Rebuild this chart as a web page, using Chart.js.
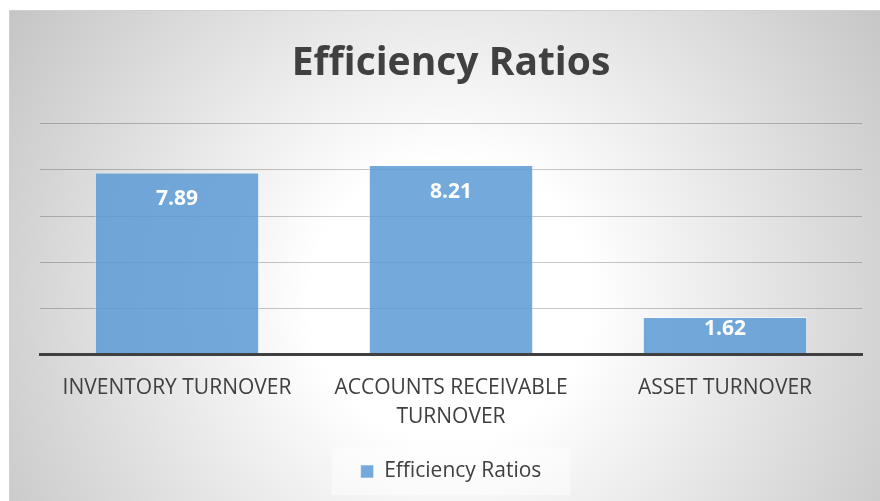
<!DOCTYPE html>
<html>
<head>
<meta charset="utf-8">
<script src="https://cdn.jsdelivr.net/npm/chart.js@4/dist/chart.umd.min.js"></script>
<style>
  html, body { margin: 0; padding: 0; background: #fff; }
  #wrap { width: 880px; height: 501px; }
</style>
</head>
<body>
<div id="wrap"><canvas id="ratios-chart"></canvas></div>
<script>
const categories = ['INVENTORY TURNOVER', ['ACCOUNTS RECEIVABLE', 'TURNOVER'], 'ASSET TURNOVER'];
const ratioValues = [7.89, 8.21, 1.62];
const seriesName = 'Efficiency Ratios';
const yRange = [0, 10];
const yStep = 2;

const frameBackground = {
    id: 'frameBackground',
    beforeDraw(chart) {
        const ctx = chart.ctx;
        ctx.save();
        ctx.fillStyle = '#ffffff';
        ctx.fillRect(0, 0, chart.width, chart.height);
        const g = ctx.createRadialGradient(450, 300, 0, 450, 300, 560);
        g.addColorStop(0, '#ffffff');
        g.addColorStop(0.25, '#ffffff');
        g.addColorStop(1, '#c0c0c0');
        ctx.fillStyle = g;
        ctx.fillRect(9, 10, chart.width - 9, chart.height - 10);
        ctx.strokeStyle = '#d0d0d0';
        ctx.lineWidth = 1;
        ctx.beginPath();
        ctx.moveTo(9.5, chart.height);
        ctx.lineTo(9.5, 10.5);
        ctx.lineTo(chart.width, 10.5);
        ctx.stroke();

        // soft box behind the legend
        const boxes = chart.legend && chart.legend.legendHitBoxes;
        if (boxes && boxes.length) {
            const b = boxes[0];
            ctx.fillStyle = 'rgba(255,255,255,0.45)';
            ctx.fillRect(b.left - 29, b.top - 13, b.width + 58, b.height + 26);
        }
        ctx.restore();
    }
};

const barValueLabels = {
    id: 'barValueLabels',
    afterDatasetsDraw(chart) {
        const ctx = chart.ctx;
        const meta = chart.getDatasetMeta(0);
        ctx.save();
        ctx.fillStyle = '#ffffff';
        ctx.font = 'bold 21px "Open Sans", sans-serif';
        ctx.textAlign = 'center';
        ctx.textBaseline = 'middle';
        meta.data.forEach((bar, i) => {
            const y = Math.min(bar.y + 27, (bar.y + bar.base) / 2 - 6);
            ctx.fillText(ratioValues[i].toFixed(2), bar.x, y);
        });
        ctx.restore();
    }
};

Chart.defaults.font.family = '"Open Sans", sans-serif';
Chart.defaults.color = '#404040';

new Chart(document.getElementById('ratios-chart'), {
    type: 'bar',
    data: {
        labels: categories,
        datasets: [{
            label: seriesName,
            data: ratioValues,
            backgroundColor: 'rgba(91, 155, 213, 0.85)',
            borderColor: 'rgba(255, 255, 255, 0.55)',
            borderWidth: 1,
            barPercentage: 0.6,
            categoryPercentage: 1
        }]
    },
    options: {
        responsive: true,
        maintainAspectRatio: false,
        animation: false,
        layout: {
            padding: { top: 10, left: 40, right: 18, bottom: 9 }
        },
        scales: {
            x: {
                grid: { display: false, drawTicks: false },
                border: { display: true, color: '#404040', width: 3, z: 1 },
                ticks: {
                    padding: 20,
                    color: '#404040',
                    font: { size: 21, lineHeight: 1.35 }
                }
            },
            y: {
                min: yRange[0],
                max: yRange[1],
                ticks: { display: false, stepSize: yStep },
                border: { display: false },
                grid: {
                    drawTicks: false,
                    color: ctx => ctx.tick && ctx.tick.value === 0 ? 'rgba(0,0,0,0)' : 'rgba(0,0,0,0.22)',
                    lineWidth: 1
                }
            }
        },
        plugins: {
            title: {
                display: true,
                text: seriesName,
                color: '#404040',
                font: { size: 39, weight: 'bold', lineHeight: 1.2 },
                padding: { top: 30, bottom: 37 }
            },
            legend: {
                position: 'bottom',
                labels: {
                    boxWidth: 13,
                    boxHeight: 13,
                    padding: 10,
                    color: '#404040',
                    font: { size: 21 }
                }
            },
            tooltip: { enabled: false }
        }
    },
    plugins: [frameBackground, barValueLabels]
});
</script>
</body>
</html>
